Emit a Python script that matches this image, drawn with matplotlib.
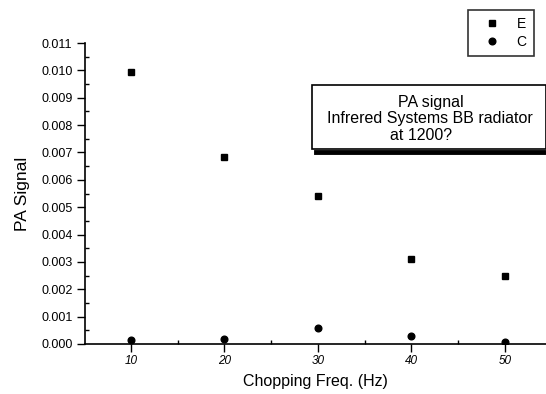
import matplotlib
matplotlib.use("Agg")
import matplotlib.pyplot as plt
from matplotlib.patches import Rectangle
from matplotlib.lines import Line2D
from matplotlib.ticker import MultipleLocator

plt.rcParams['font.family'] = ['Liberation Sans', 'DejaVu Sans']

# datos
freq = [10, 20, 30, 40, 50]
sig_e = [0.00993, 0.00685, 0.0054, 0.0031, 0.0025]
sig_c = [0.00015, 0.0002, 0.00057, 0.0003, 0.00007]

W, H = 546, 394
fig = plt.figure(figsize=(W / 100, H / 100), dpi=100)
ax = fig.add_axes([85 / W, 50 / H, 1 - 85 / W, (344 - 43) / H])

ax.plot(freq, sig_e, 's', color='black', markersize=4.8, label='E')
ax.plot(freq, sig_c, 'o', color='black', markersize=4.8, label='C')

ax.set_xlim(5.1, 54.4)
ax.set_ylim(0, 0.011)
ax.xaxis.set_major_locator(MultipleLocator(10))
ax.xaxis.set_minor_locator(MultipleLocator(5))
ax.yaxis.set_major_locator(MultipleLocator(0.001))
ax.yaxis.set_minor_locator(MultipleLocator(0.0005))
ax.set_yticklabels(["%.3f" % v for v in ax.get_yticks()])
ax.spines['top'].set_visible(False)
ax.spines['right'].set_visible(False)
ax.spines['left'].set_linewidth(1.2)
ax.spines['bottom'].set_linewidth(1.2)
ax.tick_params(which='both', colors='black', width=1)
ax.tick_params(which='major', direction='out', length=6, pad=3, labelsize=9)
ax.tick_params(which='major', axis='x', pad=2, labelsize=8.5)
ax.tick_params(which='minor', direction='in', length=3)
for lab in ax.get_xticklabels():
    lab.set_style('italic')

ax.set_xlabel("Chopping Freq. (Hz)", fontsize=11.5, labelpad=5)
ax.set_ylabel("PA Signal", fontsize=12.5, labelpad=8)

# leyenda
leg = ax.legend(loc='upper left', bbox_to_anchor=(468 / W, 1 - 10 / H),
                bbox_transform=fig.transFigure, frameon=True, fancybox=False,
                edgecolor='black', fontsize=10, handlelength=2.4,
                handletextpad=0.6, borderpad=0.5, labelspacing=0.3,
                borderaxespad=0)
leg.get_frame().set_linewidth(1.2)

# cuadro de texto con sombra
fig.patches.append(Rectangle((312 / W, 1 - 149 / H), (W - 312) / W, 64 / H,
                             transform=fig.transFigure, facecolor='white',
                             edgecolor='black', linewidth=1.2))
fig.lines.append(Line2D([316 / W, 1], [1 - 152 / H, 1 - 152 / H],
                        transform=fig.transFigure, color='black', linewidth=3.5))
fig.text(431 / W, 1 - 102 / H, "PA signal", ha='center', va='center', fontsize=11.5)
fig.text(430 / W, 1 - 118 / H, "Infrered Systems BB radiator", ha='center', va='center', fontsize=11.5)
fig.text(421 / W, 1 - 135 / H, "at 1200?", ha='center', va='center', fontsize=11.5)

fig.savefig("out.png", dpi=100)
